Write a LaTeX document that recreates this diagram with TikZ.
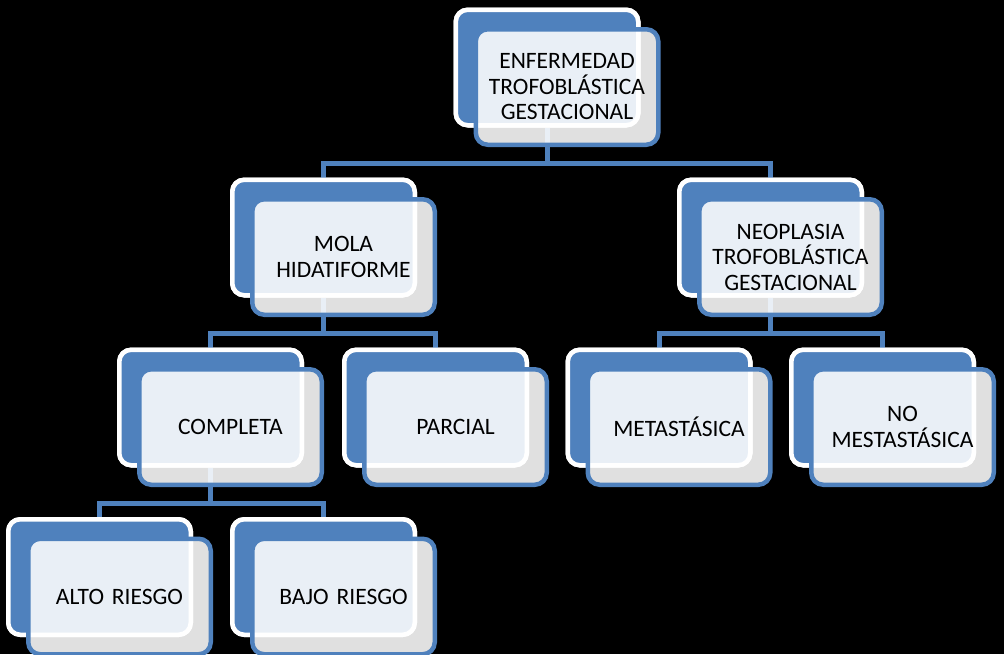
\documentclass[tikz,border=0pt]{standalone}
\usepackage{fontspec}
\setmainfont{Carlito}
\definecolor{sblue}{HTML}{4F81BD}
\tikzset{
  backbox/.style={draw=white, line width=4.5pt, fill=sblue, rounded corners=12pt,
    minimum width=182.5pt, minimum height=115.5pt, inner sep=0pt},
  frontbox/.style={draw=sblue, line width=4.5pt, fill=white, fill opacity=0.88,
    text opacity=1, rounded corners=12pt,
    minimum width=182.5pt, minimum height=115.5pt, inner sep=0pt,
    align=center, text width=175pt,
    font=\fontsize{23.5pt}{25.5pt}\selectfont},
  conn/.style={draw=sblue, line width=5pt}
}
\begin{document}
\begin{tikzpicture}[x=1pt,y=-1pt]
\fill[black] (0,0) rectangle (1004,654);
\useasboundingbox (0,0) rectangle (1004,654);
% back boxes
\node[backbox] (b1) at (547,67.5) {};
\node[backbox] (b2) at (323.5,237.5) {};
\node[backbox] (b3) at (770.5,237.5) {};
\node[backbox] (b4) at (210.5,407.5) {};
\node[backbox] (b5) at (435.5,407.5) {};
\node[backbox] (b6) at (659,407.5) {};
\node[backbox] (b7) at (882.5,407.5) {};
\node[backbox] (b8) at (99.5,577) {};
\node[backbox] (b9) at (323.5,577) {};
% bus coordinates
\coordinate (bus1) at (0,163);
\coordinate (bus2) at (0,333);
\coordinate (bus3) at (0,503);
% connectors
\draw[conn] (b1.south) -- (b1.south |- bus1) -| (b2.north);
\draw[conn] (b1.south |- bus1) -| (b3.north);
\draw[conn] (b2.south) -- (b2.south |- bus2) -| (b4.north);
\draw[conn] (b2.south |- bus2) -| (b5.north);
\draw[conn] (b3.south) -- (b3.south |- bus2) -| (b6.north);
\draw[conn] (b3.south |- bus2) -| (b7.north);
\draw[conn] (b4.south) -- (b4.south |- bus3) -| (b8.north);
\draw[conn] (b4.south |- bus3) -| (b9.north);
% redraw back boxes above connectors
\foreach \n in {b1,b2,b3,b4,b5,b6,b7,b8,b9}{
  \node[backbox] at (\n.center) {};
}
% front boxes
\node[frontbox] (f1) at ([shift={(20,19.5)}]b1.center) {ENFERMEDAD\\TROFOBLÁSTICA\\GESTACIONAL};
\node[frontbox] (f2) at ([shift={(20,19.5)}]b2.center) {MOLA\\HIDATIFORME};
\node[frontbox] (f3) at ([shift={(20,19.5)}]b3.center) {NEOPLASIA\\TROFOBLÁSTICA\\GESTACIONAL};
\node[frontbox] (f4) at ([shift={(20,19.5)}]b4.center) {COMPLETA};
\node[frontbox] (f5) at ([shift={(20,19.5)}]b5.center) {PARCIAL};
\node[frontbox] (f6) at ([shift={(20,19.5)}]b6.center) {METASTÁSICA};
\node[frontbox] (f7) at ([shift={(20,19.5)}]b7.center) {NO\\MESTASTÁSICA};
\node[frontbox] (f8) at ([shift={(20,19.5)}]b8.center) {ALTO RIESGO};
\node[frontbox] (f9) at ([shift={(20,19.5)}]b9.center) {BAJO RIESGO};
\end{tikzpicture}
\end{document}
